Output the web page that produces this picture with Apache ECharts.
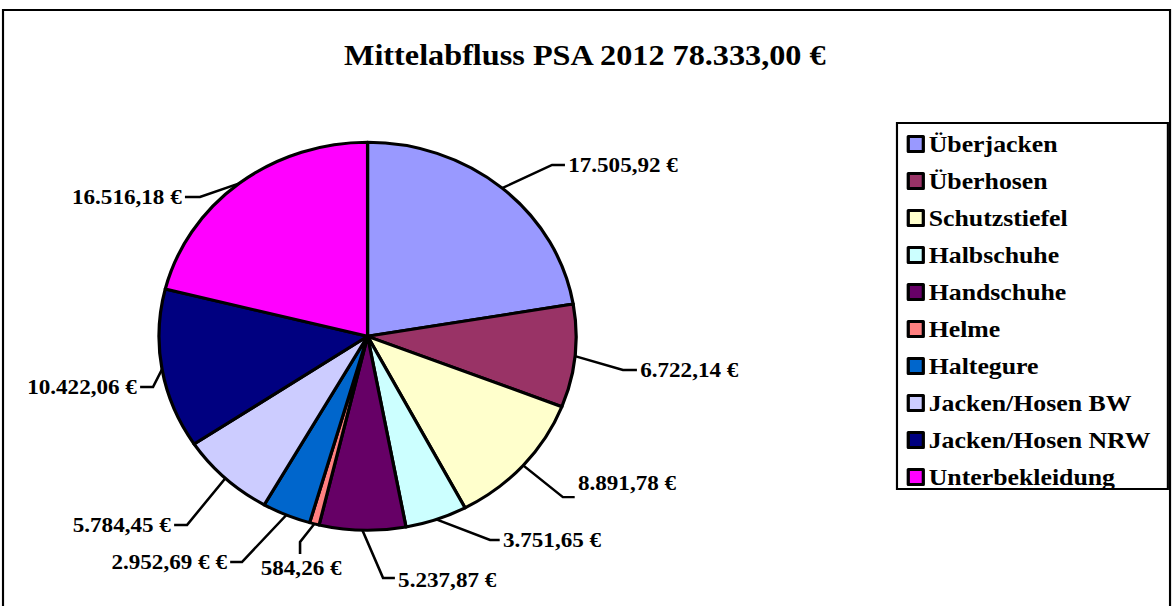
<!DOCTYPE html>
<html>
<head>
<meta charset="utf-8">
<script src="https://cdn.jsdelivr.net/npm/echarts@6/dist/echarts.min.js"></script>
<style>
  html, body { margin: 0; padding: 0; background: #fff; overflow: hidden; }
  #wrap { width: 1176px; height: 606px; overflow: hidden; }
  #chart { width: 1094px; height: 606px; transform: scaleX(1.075); transform-origin: 0 0; }
</style>
</head>
<body>
<div id="wrap"><div id="chart"></div></div>
<script>
const titleText = 'Mittelabfluss PSA 2012 78.333,00 €';
const categories = ['Überjacken', 'Überhosen', 'Schutzstiefel', 'Halbschuhe', 'Handschuhe', 'Helme', 'Haltegure', 'Jacken/Hosen BW', 'Jacken/Hosen NRW', 'Unterbekleidung'];
const values = [17505.92, 6722.14, 8891.78, 3751.65, 5237.87, 584.26, 2952.69, 5784.45, 10422.06, 16516.18];
const labelSuffix = ['', '', '', '', '', '', ' €', '', '', ''];
const colors = ['#9999FF', '#993366', '#FFFFCC', '#CCFFFF', '#660066', '#FF8080', '#0066CC', '#CCCCFF', '#000080', '#FF00FF'];

// leader line shape per slice: [dx, dy, horizontal length, label y offset]
const leaders = [
  [46.4, -23.1, 12, 0],
  [44.6, 13.9, 13, 0],
  [36.9, 31.7, 11, -14],
  [50, 20.5, 9, 0],
  [19.2, 47.8, 11, 2],
  [-13.3, 18.1, 0, 0],
  [-41.3, 47, -11, 0],
  [-35.7, 46.7, -12, 0],
  [-8.4, 17.6, -12, 0],
  [-36.6, 13.7, -14, 0]
];

const FONT = "'Liberation Serif', 'Times New Roman', serif";

function formatEuro(v) {
  const parts = v.toFixed(2).split('.');
  const intPart = parts[0].replace(/\B(?=(\d{3})+(?!\d))/g, '.');
  return intPart + ',' + parts[1] + ' €';
}

const chart = echarts.init(document.getElementById('chart'), null, { renderer: 'svg' });

const option = {
  animation: false,
  backgroundColor: '#ffffff',
  color: colors,
  title: {
    text: titleText,
    left: 315,
    top: 35,
    textStyle: { fontFamily: FONT, fontWeight: 'bold', fontSize: 30, color: '#000' }
  },
  graphic: [{
    type: 'rect',
    shape: { x: 2.8, y: 10, width: 1085.6, height: 640 },
    style: { fill: 'none', stroke: '#000', lineWidth: 2 },
    silent: true
  }],
  legend: {
    orient: 'vertical',
    left: 834.4,
    top: 123,
    icon: 'rect',
    itemWidth: 14,
    itemHeight: 15,
    itemGap: 13,
    padding: [9, 16, 0, 9],
    borderColor: '#000',
    borderWidth: 2,
    backgroundColor: '#fff',
    data: categories,
    itemStyle: { borderColor: '#000', borderWidth: 3 },
    textStyle: { fontFamily: FONT, fontWeight: 'bold', fontSize: 24, lineHeight: 24, color: '#000' }
  },
  series: [{
    type: 'pie',
    center: [341.9, 336.3],
    radius: 194,
    startAngle: 90,
    clockwise: true,
    avoidLabelOverlap: false,
    itemStyle: { borderColor: '#000', borderWidth: 3 },
    label: {
      show: true,
      position: 'outside',
      overflow: 'none',
      fontFamily: FONT,
      fontWeight: 'bold',
      fontSize: 21.5,
      color: '#000',
      formatter: function (p) { return formatEuro(p.value) + labelSuffix[p.dataIndex]; }
    },
    labelLine: {
      show: true,
      length: 15,
      length2: 15,
      lineStyle: { color: '#000', width: 2.4 }
    },
    labelLayout: function (params) {
      const i = params.dataIndex;
      const pts = params.labelLinePoints;
      if (!pts) return {};
      const p0 = pts[0];
      const L = leaders[i];
      const p1 = [p0[0] + L[0], p0[1] + L[1]];
      if (i === 5) {
        const p2 = [p1[0], p1[1] + 12];
        return {
          x: p2[0] + 1,
          y: p2[1] + 3,
          align: 'center',
          verticalAlign: 'top',
          labelLinePoints: [p0, p1, p2]
        };
      }
      const p2 = [p1[0] + L[2], p1[1]];
      const right = L[2] >= 0;
      return {
        x: p2[0] + (right ? 3 : -3),
        y: p2[1] + L[3],
        align: right ? 'left' : 'right',
        verticalAlign: 'middle',
        labelLinePoints: [p0, p1, p2]
      };
    },
    data: categories.map(function (c, i) { return { name: c, value: values[i] }; })
  }]
};

chart.setOption(option);
</script>
</body>
</html>
